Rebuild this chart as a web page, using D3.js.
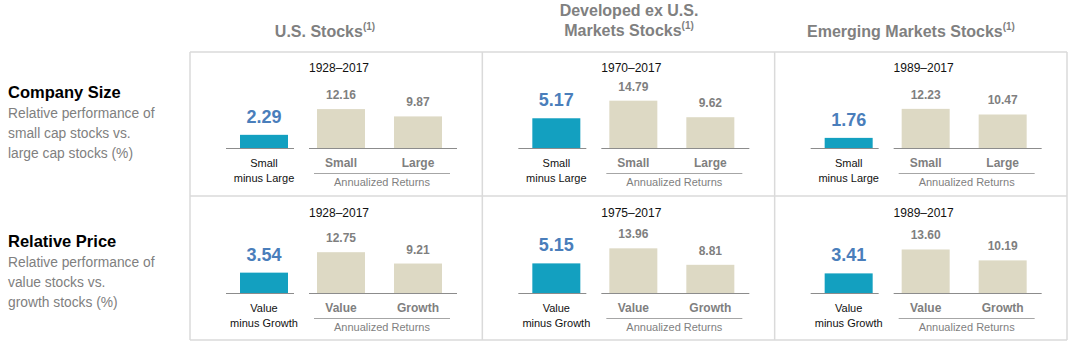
<!DOCTYPE html>
<html>
<head>
<meta charset="utf-8">
<script src="https://cdn.jsdelivr.net/npm/d3@7"></script>
<style>
  html, body { margin: 0; padding: 0; background: #fff; }
  svg { display: block; }
  text { font-family: "Liberation Sans", Arial, sans-serif; }
</style>
</head>
<body>
<script>
// Market columns and dimension rows
const markets = ["U.S. Stocks", "Developed ex U.S. Markets Stocks", "Emerging Markets Stocks"];
const dimensions = ["Company Size", "Relative Price"];
const dimensionNotes = [
  ["Relative performance of", "small cap stocks vs.", "large cap stocks (%)"],
  ["Relative performance of", "value stocks vs.", "growth stocks (%)"]
];
const pairLabels = [["Small", "Large"], ["Value", "Growth"]];
const premiumLabels = [["Small", "minus Large"], ["Value", "minus Growth"]];

// Periods per row, one per market
const periodsSize = ["1928–2017", "1970–2017", "1989–2017"];
const periodsPrice = ["1928–2017", "1975–2017", "1989–2017"];

// Annualized returns (%) per row, one per market
const smallReturns = [12.16, 14.79, 12.23];
const largeReturns = [9.87, 9.62, 10.47];
const valueReturns = [12.75, 13.96, 13.60];
const growthReturns = [9.21, 8.81, 10.19];

// Premiums (%), shown above the blue bars
const sizePremium = [2.29, 5.17, 1.76];
const valuePremium = [3.54, 5.15, 3.41];

const rows = [
  { periods: periodsSize, premium: sizePremium, returns: [smallReturns, largeReturns] },
  { periods: periodsPrice, premium: valuePremium, returns: [valueReturns, growthReturns] }
];

const W = 1073, H = 343;
const svg = d3.select("body").append("svg").attr("width", W).attr("height", H);

// Layout scales
const colX = d3.scaleLinear().domain([0, 3]).range([190, 1067]);     // panel edges
const rowBase = d3.scaleLinear().domain([0, 1]).range([148, 293]);   // bar baselines
const premiumH = d3.scaleLinear().domain([0, 6]).range([0, 34.5]);   // blue bar height
const returnH = d3.scaleLinear().domain([0, 16]).range([0, 51.2]);   // beige bar height
const pairX = d3.scaleBand().domain([0, 1]).range([126, 251]).paddingInner(29 / 77).paddingOuter(0);

const grey = "#7f7f7f";
const gridColor = "#dadada";

// Grid
const grid = svg.append("g").attr("stroke", gridColor).attr("stroke-width", 1.5).attr("fill", "none");
[52, 196, 340].forEach(y => grid.append("line").attr("x1", colX(0)).attr("x2", colX(3)).attr("y1", y).attr("y2", y));
d3.range(4).forEach(i => grid.append("line").attr("x1", colX(i)).attr("x2", colX(i)).attr("y1", 52).attr("y2", 340));

// Column headers
const headerLines = [[["U.S. Stocks", true]], [["Developed ex U.S.", false], ["Markets Stocks", true]], [["Emerging Markets Stocks", true]]];
const headerCx = [325, 629, 911];
headerLines.forEach((lines, i) => {
  lines.forEach((ln, j) => {
    const y = lines.length === 1 ? 37 : 16 + j * 20;
    const t = svg.append("text")
      .attr("x", headerCx[i]).attr("y", y)
      .attr("text-anchor", "middle")
      .attr("font-size", 16).attr("font-weight", "bold").attr("fill", "#808080");
    t.append("tspan").text(ln[0]);
    if (ln[1]) t.append("tspan").attr("dy", -7).attr("font-size", 10).text("(1)");
  });
});

// Row labels
dimensions.forEach((d, r) => {
  const y0 = r === 0 ? 98 : 247;
  svg.append("text").attr("x", 8).attr("y", y0)
    .attr("font-size", 16.5).attr("font-weight", "bold").attr("fill", "#000").text(d);
  dimensionNotes[r].forEach((ln, k) => {
    svg.append("text").attr("x", 8).attr("y", y0 + 20 * (k + 1))
      .attr("font-size", 13.8).attr("fill", "#808080").text(ln);
  });
});

// Panels
rows.forEach((row, r) => {
  const base = rowBase(r);
  markets.forEach((m, c) => {
    const L = colX(c) + 1;
    const g = svg.append("g").attr("transform", `translate(${L},0)`);

    g.append("text").attr("x", 148).attr("y", base - 76)
      .attr("text-anchor", "middle").attr("font-size", 12).attr("fill", "#111")
      .text(row.periods[c]);

    // Premium bar
    const pv = row.premium[c];
    g.append("rect").attr("x", 49).attr("width", 48)
      .attr("y", base - premiumH(pv)).attr("height", premiumH(pv))
      .attr("fill", "#13a0c0");
    g.append("line").attr("x1", 35).attr("x2", 103).attr("y1", base + 0.5).attr("y2", base + 0.5)
      .attr("stroke", "#8c8c8c").attr("stroke-width", 1);
    g.append("text").attr("x", 73).attr("y", base - premiumH(pv) - 12)
      .attr("text-anchor", "middle").attr("font-size", 18).attr("font-weight", "bold")
      .attr("fill", "#4a7ebb").text(pv.toFixed(2));
    premiumLabels[r].forEach((ln, k) => {
      g.append("text").attr("x", 73).attr("y", base + 19 + 15 * k)
        .attr("text-anchor", "middle").attr("font-size", 11).attr("fill", "#111").text(ln);
    });

    // Annualized return bars
    row.returns.forEach((series, s) => {
      const v = series[c];
      g.append("rect").attr("x", pairX(s)).attr("width", pairX.bandwidth())
        .attr("y", base - returnH(v)).attr("height", returnH(v))
        .attr("fill", "#ddd9c4");
      g.append("text").attr("x", pairX(s) + pairX.bandwidth() / 2).attr("y", base - returnH(v) - 10)
        .attr("text-anchor", "middle").attr("font-size", 12).attr("font-weight", "bold")
        .attr("fill", grey).text(v.toFixed(2));
      g.append("text").attr("x", pairX(s) + pairX.bandwidth() / 2).attr("y", base + 19)
        .attr("text-anchor", "middle").attr("font-size", 12).attr("font-weight", "bold")
        .attr("fill", grey).text(pairLabels[r][s]);
    });
    g.append("line").attr("x1", 118).attr("x2", 266).attr("y1", base + 0.5).attr("y2", base + 0.5)
      .attr("stroke", "#8c8c8c").attr("stroke-width", 1);
    g.append("line").attr("x1", 123).attr("x2", 259).attr("y1", base + 25.5).attr("y2", base + 25.5)
      .attr("stroke", "#a6a6a6").attr("stroke-width", 1);
    g.append("text").attr("x", 191).attr("y", base + 38)
      .attr("text-anchor", "middle").attr("font-size", 11).attr("fill", grey).text("Annualized Returns");
  });
});
</script>
</body>
</html>
